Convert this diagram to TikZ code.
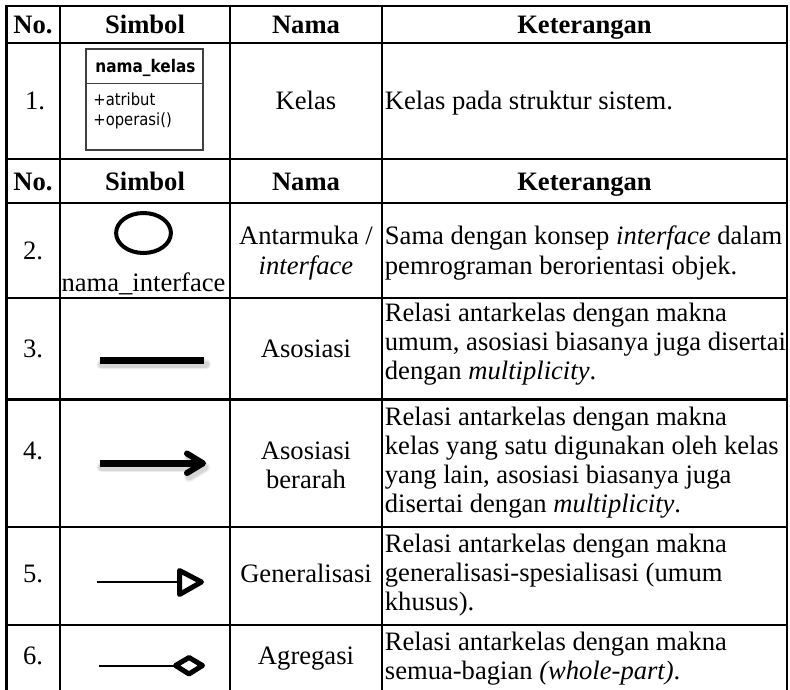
\documentclass[tikz,border=0pt]{standalone}
\usepackage{fontspec}
\setmainfont{Liberation Serif}
\newfontfamily\boxfont[FakeStretch=0.88]{DejaVu Sans}
\newcommand\tfont{\fontsize{13.3}{15}\selectfont}
\begin{document}
\begin{tikzpicture}[x=0.5pt,y=-0.5pt,
  gridline/.style={line width=1.25pt, line cap=rect},
  txt/.style={anchor=base, inner sep=0pt, font=\tfont},
  hdr/.style={anchor=base, inner sep=0pt, font=\tfont\bfseries},
  ket/.style={anchor=base west, inner sep=0pt, font=\tfont},
  boxtxt/.style={anchor=base west, inner sep=0pt, font=\boxfont\fontsize{8.4}{9}\selectfont},
  boxhead/.style={anchor=base west, inner sep=0pt, font=\boxfont\bfseries\fontsize{8.7}{9}\selectfont},
  sym/.style={line width=2.5pt, line join=round, line cap=round},
  thin/.style={line width=1pt},
  shadowwide/.style={line width=5pt, black!7, line cap=round, line join=round},
  shadow/.style={line width=3.4pt, black!16, line cap=round, line join=round}
]
\useasboundingbox (0,0) rectangle (790,689);

% grid
\foreach \yy in {6,43,159,203,298,399.5,527,625}
  \draw[gridline] (6.5,\yy) -- (787,\yy);
\foreach \xx in {6.5,60,230,382,787}
  \draw[gridline] (\xx,6) -- (\xx,689);

% header 1
\node[hdr] (h1no) at (33,34) {No.};
\node[hdr] (h1sym) at (145,34) {Simbol};
\node[hdr] (h1nama) at (306,34) {Nama};
\node[hdr] (h1ket) at (584.5,34) {Keterangan};

% row 1
\node[txt] (n1) at (35,110) {1.};
\draw[line width=0.75pt, black!75] (86,49) rectangle (203,150);
\draw[line width=0.75pt, black!75] (86,83.3) -- (203,83.3);
\node[boxhead] (kelasname) at (95,73) {nama\_kelas};
\node[boxtxt] (kelasattr) at (93,106) {+atribut};
\node[boxtxt] (kelasop) at (93,126) {+operasi()};
\node[txt] (nama1) at (306,110) {Kelas};
\node[ket] (k1) at (384.5,110) {Kelas pada struktur sistem.};

% header 2
\node[hdr] (h2no) at (33,190.5) {No.};
\node[hdr] (h2sym) at (145,190.5) {Simbol};
\node[hdr] (h2nama) at (306,190.5) {Nama};
\node[hdr] (h2ket) at (584.5,190.5) {Keterangan};

% row 2
\node[txt] (n2) at (33,259) {2.};
\draw[line width=2pt] (143.5,233) ellipse [x radius=13.7pt, y radius=10pt];
\node[txt] (iname) at (143.5,291) {nama\_interface};
\node[txt] (nama2a) at (306,245) {Antarmuka /};
\node[txt] (nama2b) at (306,274) {\itshape interface};
\node[ket] (k2a) at (384.5,245) {Sama dengan konsep \textit{interface} dalam};
\node[ket] (k2b) at (384.5,274) {pemrograman berorientasi objek.};

% row 3
\node[txt] (n3) at (33,357) {3.};
\coordinate (a1) at (99.5,360.3);
\coordinate (a2) at (204,360.3);
\draw[shadowwide] ([shift={(2,4)}]a1) -- ([shift={(2,4)}]a2);
\draw[shadow] ([shift={(2,4)}]a1) -- ([shift={(2,4)}]a2);
\draw[line width=3.6pt] (a1) -- (a2);
\node[txt] (nama3) at (306,357) {Asosiasi};
\node[ket] (k3a) at (384.5,321) {Relasi antarkelas dengan makna};
\node[ket] (k3b) at (384.5,350) {umum, asosiasi biasanya juga disertai};
\node[ket] (k3c) at (384.5,379) {dengan \textit{multiplicity}.};

% row 4
\node[txt] (n4) at (33,459) {4.};
\coordinate (b1) at (99.5,463.3);
\coordinate (b2) at (201,463.3);
\coordinate (bu) at (187,453.5);
\coordinate (bt) at (203,463.3);
\coordinate (bd) at (187,473);
\draw[shadowwide] ([shift={(2,4)}]b1) -- ([shift={(2,4)}]b2);
\draw[shadowwide] ([shift={(2,4)}]bu) -- ([shift={(2,4)}]bt) -- ([shift={(2,4)}]bd);
\draw[shadow] ([shift={(2,4)}]b1) -- ([shift={(2,4)}]b2);
\draw[shadow] ([shift={(2,4)}]bu) -- ([shift={(2,4)}]bt) -- ([shift={(2,4)}]bd);
\draw[line width=3.3pt] (b1) -- (b2);
\draw[line width=3pt, line cap=round, line join=round] (bu) -- (bt) -- (bd);
\node[txt] (nama4a) at (306,459) {Asosiasi};
\node[txt] (nama4b) at (306,488) {berarah};
\node[ket] (k4a) at (384.5,425) {Relasi antarkelas dengan makna};
\node[ket] (k4b) at (384.5,454) {kelas yang satu digunakan oleh kelas};
\node[ket] (k4c) at (384.5,483) {yang lain, asosiasi biasanya juga};
\node[ket] (k4d) at (384.5,512) {disertai dengan \textit{multiplicity}.};

% row 5
\node[txt] (n5) at (33,582) {5.};
\coordinate (g1) at (97,581.5);
\coordinate (g2) at (179.5,581.5);
\draw[thin] (g1) -- (g2);
\draw[sym] (179.5,570.5) -- (201.5,582) -- (179.5,594.5) -- cycle;
\node[txt] (nama5) at (306,582) {Generalisasi};
\node[ket] (k5a) at (384.5,552) {Relasi antarkelas dengan makna};
\node[ket] (k5b) at (384.5,581) {generalisasi-spesialisasi (umum};
\node[ket] (k5c) at (384.5,610) {khusus).};

% row 6
\node[txt] (n6) at (33,664) {6.};
\coordinate (d1) at (99,665.5);
\coordinate (d2) at (175.5,665.5);
\draw[thin] (d1) -- (d2);
\draw[sym] (d2) -- (189,657.5) -- (202.5,665.5) -- (189,674) -- cycle;
\node[txt] (nama6) at (306,664) {Agregasi};
\node[ket] (k6a) at (384.5,650) {Relasi antarkelas dengan makna};
\node[ket] (k6b) at (384.5,679) {semua-bagian \textit{(whole-part)}.};
\end{tikzpicture}
\end{document}
